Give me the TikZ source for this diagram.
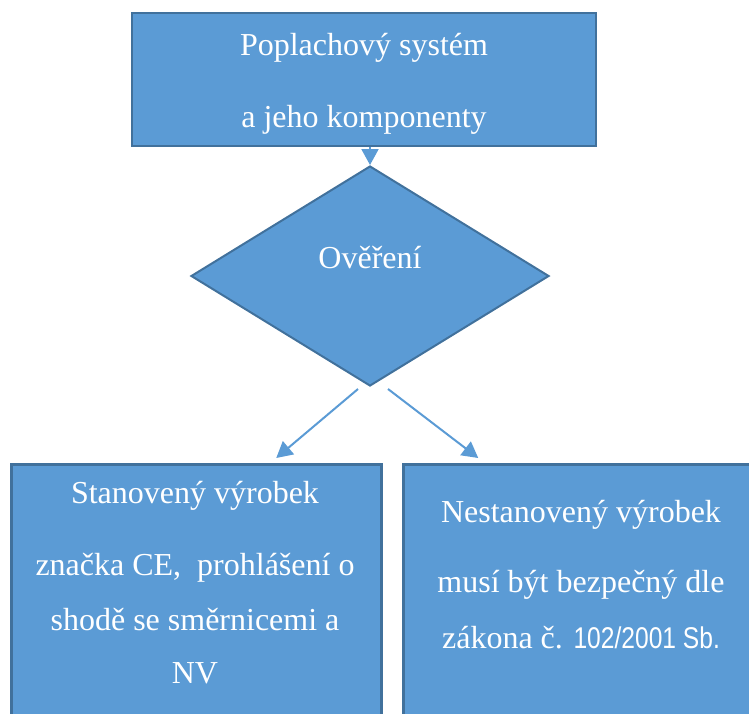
\documentclass[tikz,border=0pt]{standalone}
\usepackage{fontspec}
\setmainfont{Liberation Serif}
\newfontfamily\narrowsans[FakeStretch=0.82]{Liberation Sans}
\usetikzlibrary{shapes.geometric,arrows.meta}

\definecolor{boxfill}{HTML}{5B9BD5}
\definecolor{boxline}{HTML}{41719C}
\definecolor{arrowblue}{HTML}{5B9BD5}

\tikzset{
  flowbox/.style={draw=boxline, fill=boxfill, line width=2.5pt, inner sep=0pt},
  decision/.style={diamond, draw=boxline, fill=boxfill, line width=2pt, inner sep=0pt,
                   minimum width=358pt, minimum height=220pt},
  txt/.style={text=white, anchor=base, inner sep=0pt,
              font=\fontsize{32}{38}\selectfont},
  flow/.style={draw=arrowblue, line width=2pt,
               -{Triangle[length=16pt,width=17pt]}},
}

\begin{document}
\begin{tikzpicture}[x=1pt,y=-1pt]
  \useasboundingbox (0,0) rectangle (749,713);
  \clip (0,0) rectangle (749,713);

  % boxes
  \node[flowbox, minimum width=464pt, minimum height=133pt] (sys) at (364,79.5) {};
  \node[decision] (ver) at (370,276) {};
  \node[flowbox, minimum width=370pt, minimum height=290pt, anchor=north west] (stan) at (10,463) {};
  \node[flowbox, minimum width=358pt, minimum height=290pt, anchor=north west] (nestan) at (402,463) {};

  % texts
  \node[txt] (sys1) at (364,55) {Poplachový systém};
  \node[txt] (sys2) at (364,127) {a jeho komponenty};
  \node[txt] (ver1) at (370,268) {Ověření};

  \node[txt] (stan1) at (195,503) {Stanovený výrobek};
  \node[txt] (stan2) at (195,575) {značka CE,\ \ prohlášení o};
  \node[txt] (stan3) at (195,630) {shodě se směrnicemi a};
  \node[txt] (stan4) at (195,683) {NV};

  \node[txt] (nes1) at (581,522) {Nestanovený výrobek};
  \node[txt] (nes2) at (581,592) {musí být bezpečný dle};
  \node[txt] (nes3) at (581,648) {zákona č. {\narrowsans\fontsize{30}{36}\selectfont 102/2001 Sb.}};

  % connectors (shifts are in page units: positive yshift points up)
  \draw[flow] (sys.south -| ver.north) -- (ver.north);
  \coordinate (vl) at ([xshift=-12pt,yshift=-2pt]ver.south);
  \coordinate (vr) at ([xshift=18pt,yshift=-2pt]ver.south);
  \draw[flow] (vl) -- ([xshift=80pt,yshift=5pt]stan.north);
  \draw[flow] (vr) -- ([xshift=-104pt,yshift=5pt]nestan.north);
\end{tikzpicture}
\end{document}
